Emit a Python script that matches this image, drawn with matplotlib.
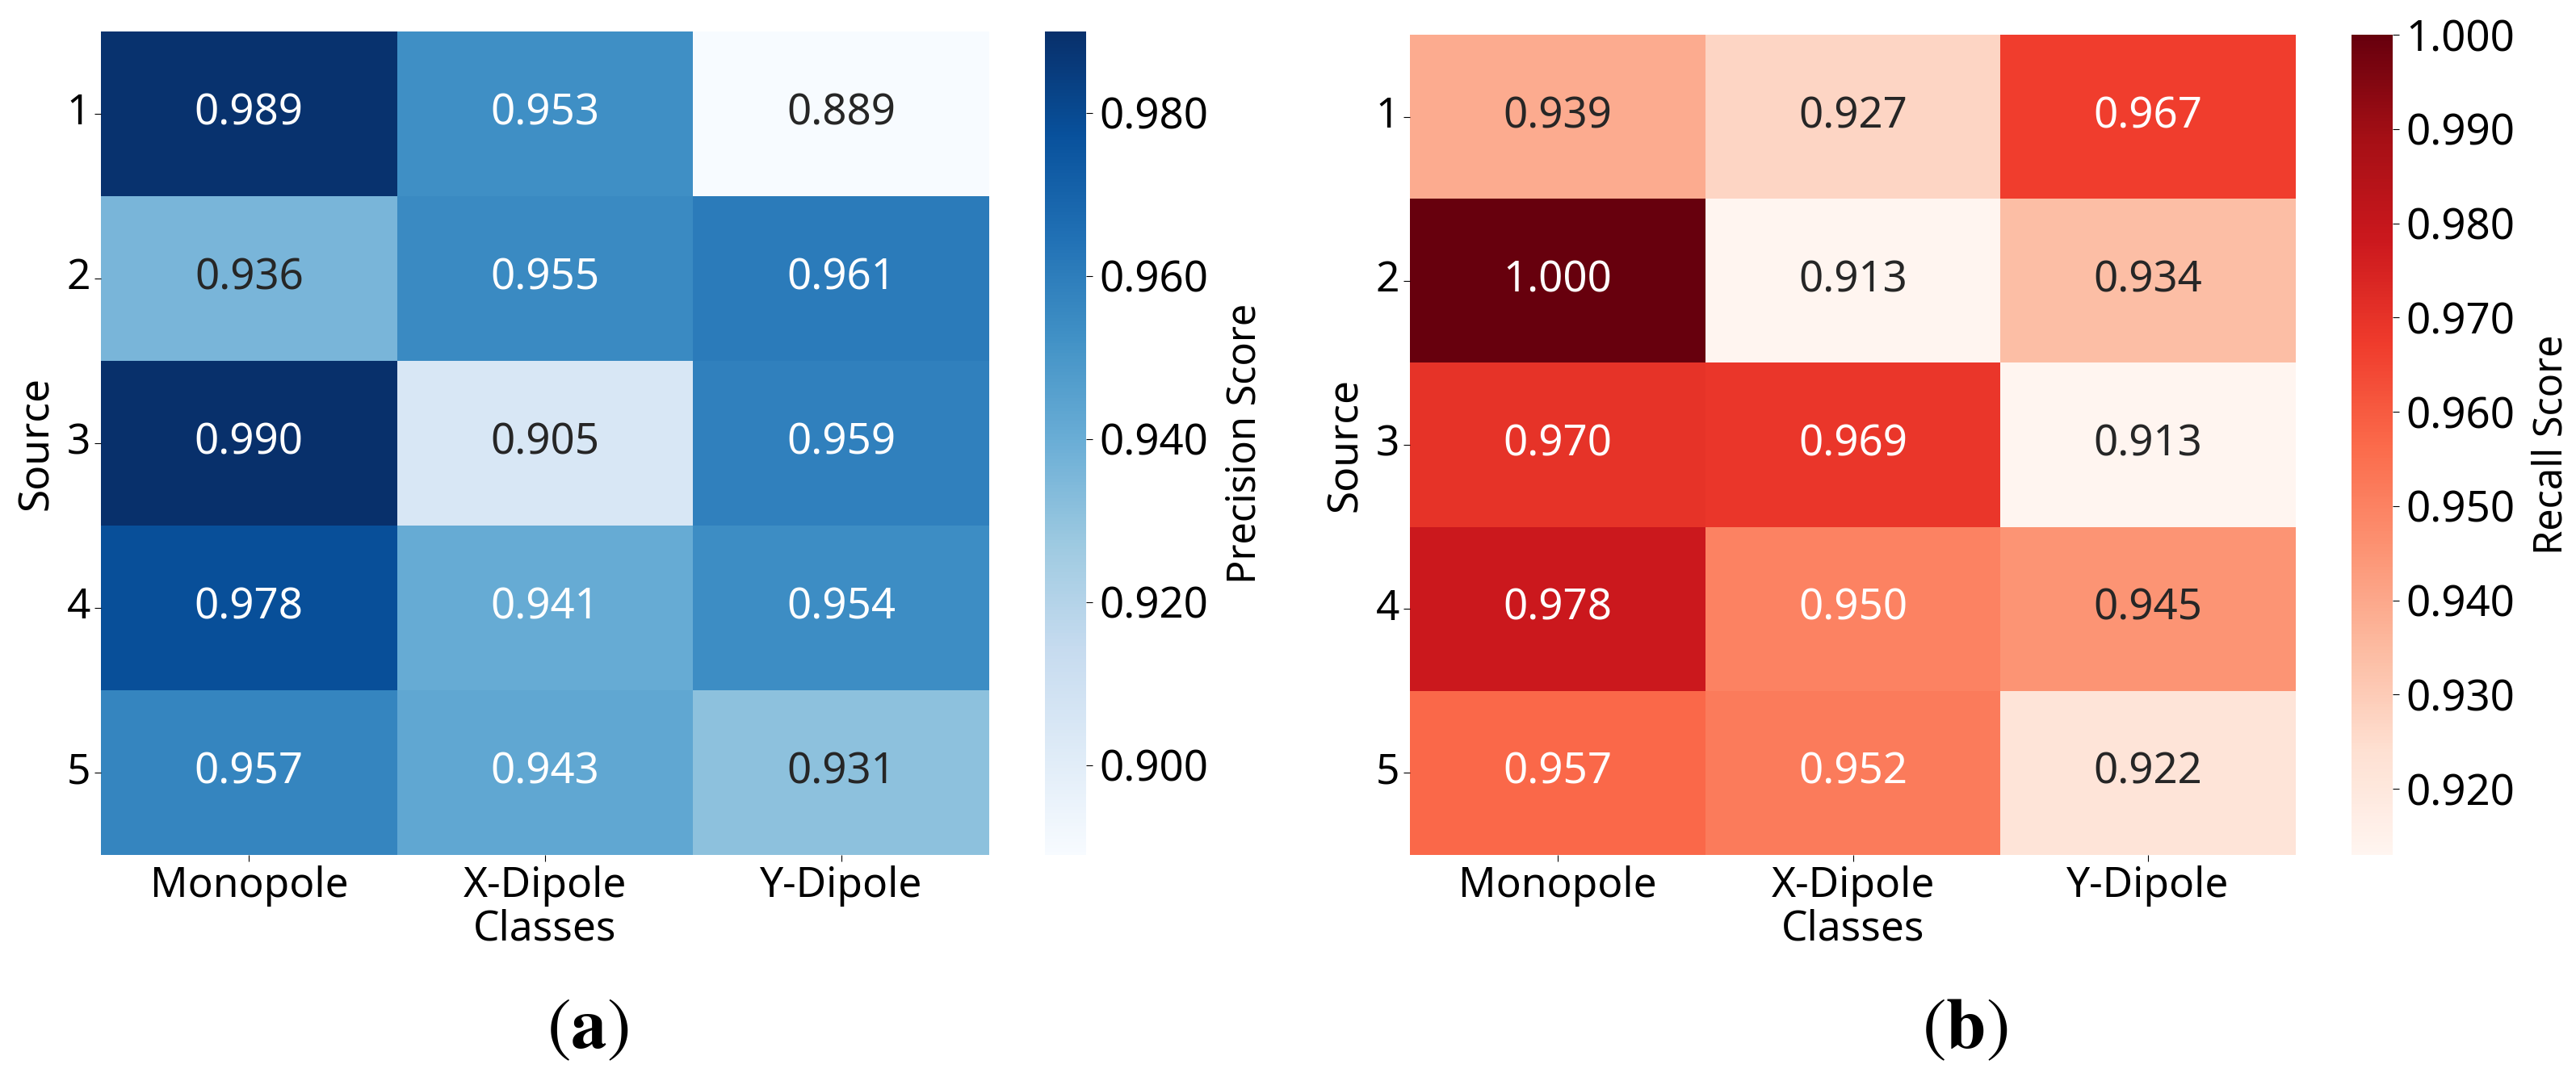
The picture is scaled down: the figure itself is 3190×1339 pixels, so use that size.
import matplotlib
matplotlib.use("Agg")
import matplotlib.pyplot as plt
import seaborn as sns
import numpy as np

plt.rcParams['font.family'] = ['Noto Sans', 'DejaVu Sans']
plt.rcParams['mathtext.fontset'] = 'stix'

# data
sources = ["1", "2", "3", "4", "5"]
classes = ["Monopole", "X-Dipole", "Y-Dipole"]
precision = [[0.989, 0.953, 0.889],
             [0.936, 0.955, 0.961],
             [0.990, 0.905, 0.959],
             [0.978, 0.941, 0.954],
             [0.957, 0.943, 0.931]]
recall = [[0.939, 0.927, 0.967],
          [1.000, 0.913, 0.934],
          [0.970, 0.969, 0.913],
          [0.978, 0.950, 0.945],
          [0.957, 0.952, 0.922]]
prec_ticks = [0.900, 0.920, 0.940, 0.960, 0.980]
rec_ticks = [0.920, 0.930, 0.940, 0.950, 0.960, 0.970, 0.980, 0.990, 1.000]

W, H = 3190, 1339
fig = plt.figure(figsize=(W / 100, H / 100), dpi=100)

def box(x0, y0, x1, y1):
    # pixel box -> figure fraction
    return [x0 / W, 1 - y1 / H, (x1 - x0) / W, (y1 - y0) / H]

ax1 = fig.add_axes(box(125, 39, 1225, 1059))
cax1 = fig.add_axes(box(1294, 39, 1345, 1059))
ax2 = fig.add_axes(box(1746, 43, 2843, 1059))
cax2 = fig.add_axes(box(2912, 43, 2963, 1059))

panels = [(ax1, cax1, precision, "Blues", prec_ticks, "Precision Score"),
          (ax2, cax2, recall, "Reds", rec_ticks, "Recall Score")]

for ax, cax, vals, cmap, ticks, lab in panels:
    sns.heatmap(np.array(vals), ax=ax, cbar_ax=cax, cmap=cmap, annot=True, fmt=".3f",
                annot_kws={"fontsize": 38},
                xticklabels=classes, yticklabels=sources,
                cbar_kws={"ticks": ticks, "format": "%.3f"})
    ax.set_xlabel("Classes", fontsize=37, labelpad=2)
    ax.set_ylabel("Source", fontsize=37, labelpad=8)
    ax.tick_params(axis='both', labelsize=37, length=6)
    ax.set_yticklabels(sources, rotation=0)
    ax.set_xticklabels(classes, rotation=0)
    cax.tick_params(labelsize=38, length=6, pad=6)
    cax.set_ylabel(lab, fontsize=35, labelpad=14)

fig.text(728 / W, 1 - 1275 / H, r"$(\mathbf{a})$", fontsize=64, ha='center', va='center')
fig.text(2433 / W, 1 - 1275 / H, r"$(\mathbf{b})$", fontsize=64, ha='center', va='center')

fig.savefig("out.png", dpi=100, facecolor="white")
